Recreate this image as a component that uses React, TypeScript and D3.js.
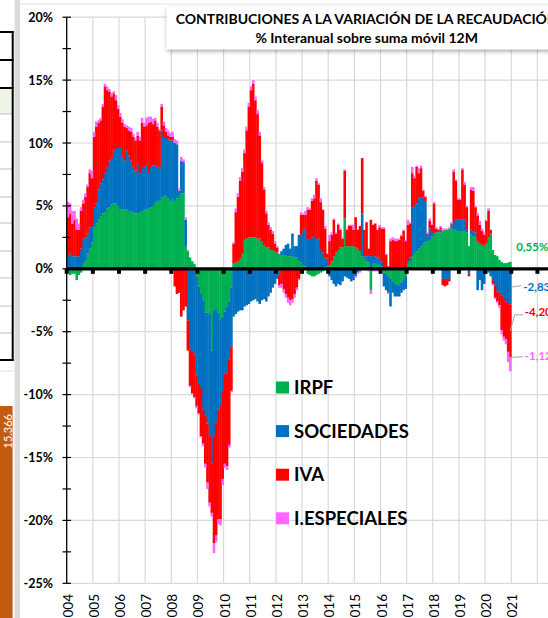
import React, { useEffect, useRef } from "react";
import * as d3 from "d3";

const W = 548;
const H = 618;

// year labels on the category axis (one every 12 months)
const yearLabels = ["2004", "2005", "2006", "2007", "2008", "2009", "2010", "2011", "2012", "2013", "2014", "2015", "2016", "2017", "2018", "2019", "2020", "2021"];
const yTicks = [20, 15, 10, 5, 0, -5, -10, -15, -20, -25];

// monthly contributions (pp), Jan 2004 .. Dec 2020
const irpf = [
  -0.3, -0.5, -0.4, -0.4, -0.9, -0.5, -0.3, 0.4, 0.7, 1.2, 1.6, 2.1,
  3.3, 3.6, 3.9, 4.2, 4.4, 4.5, 4.8, 4.9, 5.1, 5.2, 5.2, 5.0,
  4.7, 4.7, 4.7, 4.7, 4.6, 4.6, 4.5, 4.4, 4.4, 4.5, 4.6, 4.7,
  4.7, 4.8, 4.9, 5.0, 5.3, 5.4, 5.4, 5.7, 5.8, 5.8, 5.6, 5.4,
  5.5, 5.4, 5.6, 5.8, 6.0, 6.0, 1.8, 1.4, 0.9, 0.6, 0.4, -0.6,
  -1.4, -2.0, -2.5, -3.5, -3.5, -3.6, -6.5, -3.3, -3.2, -3.5, -4.0, -3.8,
  -3.4, -3.0, -2.6, -1.5, 0.4, 0.5, 0.6, 0.8, 1.2, 2.3, 2.4, 2.5,
  2.5, 2.5, 2.5, 2.4, 2.4, 2.2, 1.9, 1.7, 1.7, 1.5, 1.5, 1.4,
  1.3, 1.2, 1.1, 1.1, 1.1, 1.0, 1.0, 1.0, 0.9, 0.9, 0.7, 0.5,
  0.3, 0.2, -0.4, -0.5, -0.6, -0.6, -0.5, -0.4, -0.3, -0.2, 0.1, 0.2,
  0.3, 0.6, 1.0, 1.3, 1.5, 1.7, 1.7, 4.0, 1.8, 1.8, 1.8, 1.8,
  1.7, 1.6, 1.4, 1.0, 0.8, 0.6, 0.5, -1.7, 0.4, 0.4, 0.3, 0.3,
  0.2, -0.3, -0.5, -0.6, -0.8, -1.0, -1.2, -1.3, -1.3, -1.1, -0.9, -0.6,
  0.4, 0.6, 1.0, 1.2, 1.4, 1.6, 1.8, 2.0, 2.1, 2.2, 2.3, 2.6,
  2.7, 2.8, 2.9, 2.9, 3.0, 3.1, 3.1, 3.2, 3.2, 3.1, 3.1, 3.0,
  3.0, 3.0, 3.0, 2.9, 1.8, 2.7, 2.6, 2.5, 2.2, 2.0, 1.9, 1.9,
  2.0, 2.5, 2.8, 1.5, 1.1, 1.0, 0.7, 0.55, 0.45, 0.45, 0.5, 0.55
];
const sociedades = [
  1.1, 1.2, 1.0, 1.0, 1.0, 1.0, 1.6, 2.0, 1.8, 1.6, 1.7, 1.3,
  1.6, 1.6, 2.4, 2.6, 2.7, 3.1, 3.3, 3.7, 3.7, 4.2, 4.4, 4.6,
  4.9, 4.2, 3.9, 4.7, 4.4, 4.0, 3.6, 3.4, 4.0, 3.1, 3.5, 3.4,
  3.5, 2.8, 3.2, 3.2, 2.9, 2.7, 2.7, 5.3, 4.6, 4.6, 4.7, 4.8,
  4.7, 4.6, 4.3, 0.4, 2.6, 2.5, 2.1, -4.1, -6.4, -6.6, -6.8, -7.9,
  -7.7, -7.4, -8.7, -8.2, -8.8, -9.7, -9.0, -10.0, -9.0, -7.7, -6.9, -6.0,
  -4.9, -5.3, -4.6, -4.7, -3.8, -3.6, -3.4, -3.3, -3.3, -3.0, -2.9, -2.8,
  -2.6, -2.5, -2.4, -2.6, -2.8, -2.5, -2.4, -2.6, -2.2, -1.9, -1.5, -1.2,
  -0.8, -0.5, 0.3, 0.5, 0.8, 1.0, 0.6, 1.8, 0.9, 0.9, 2.0, 2.2,
  2.8, 2.9, 2.3, 2.3, 2.5, 2.6, 2.3, 2.4, 1.5, 1.3, 0.8, 0.6,
  -0.6, -0.9, -1.2, -1.4, -1.2, -1.3, -1.0, -0.6, -0.7, -0.8, -1.0, -0.9,
  -0.6, -0.3, -0.2, 3.4, 0.2, 0.4, 0.6, 1.0, 0.7, 0.6, 0.6, 0.5,
  0.4, -1.1, -1.2, -1.3, -2.2, -0.9, -1.0, -0.9, -0.9, -0.8, -0.8, -1.0,
  0.3, 0.3, 3.9, 3.8, 3.8, 4.0, 3.9, 3.7, 3.3, 0.5, 0.9, 0.4,
  0.1, 0.1, 0.1, 0.2, -0.8, -0.8, -0.9, -0.8, 0.3, 0.7, 0.8, 0.9,
  0.9, 0.9, 0.9, 0.2, -0.4, 0.4, 0.4, 0.4, -1.7, -0.9, -1.7, -1.2,
  -0.4, -0.3, -0.6, -0.9, -1.3, -1.8, -2.0, -2.1, -2.4, -2.6, -2.8, -2.83
];
const iva = [
  3.0, 3.2, 2.6, 2.9, 2.1, 2.1, 3.0, 2.8, 3.2, 3.7, 4.3, 3.8,
  5.6, 6.1, 5.3, 5.0, 5.8, 6.9, 6.1, 5.5, 4.9, 4.5, 3.8, 3.1,
  2.5, 2.7, 2.7, 1.8, 2.0, 2.3, 2.4, 2.4, 2.2, 2.6, 3.5, 3.2,
  3.2, 4.0, 3.6, 3.3, 3.6, 3.2, 2.9, 1.9, 1.0, 0.5, 0.3, 0.3,
  0.3, -1.4, -2.0, -1.9, -3.8, -3.3, -3.0, -2.4, -2.9, -3.3, -3.4, -2.4,
  -2.4, -3.9, -2.7, -3.8, -4.7, -5.3, -3.9, -8.5, -9.0, -8.7, -9.0, -6.9,
  -7.2, -7.4, -6.8, -3.5, 1.6, 4.0, 5.1, 6.2, 6.5, 6.9, 8.6, 10.4,
  11.7, 12.2, 10.9, 9.9, 8.2, 6.2, 4.4, 2.7, 1.8, 1.6, 1.3, 0.6,
  0.4, -0.8, -1.2, -1.6, -2.0, -2.3, -2.5, -2.4, -2.0, -1.5, -0.8, 1.6,
  1.2, 1.2, 2.4, 2.4, 2.9, 3.0, 4.7, 4.3, 3.8, 3.4, 2.3, 0.4,
  1.9, 2.1, 2.9, 1.5, 2.0, 1.4, 0.7, 3.8, 1.3, 1.6, 1.6, 1.3,
  2.4, 1.5, 2.0, 4.4, 2.1, 2.7, 0.5, 2.9, 2.4, 2.6, 2.2, 2.5,
  2.6, 3.2, 1.1, 0.2, 2.2, 2.3, 2.2, 2.2, 2.3, 2.6, 3.0, 2.2,
  2.8, 2.7, 2.7, 2.2, 2.9, 2.0, 2.3, 0.5, 0.3, 0.1, 0.6, 0.5,
  2.4, 0.3, 0.1, 0.2, -0.5, -0.6, -0.4, -0.2, 0.1, 3.9, 3.1, 1.6,
  1.6, 4.0, 2.8, 1.8, -0.2, 3.2, 3.2, 2.0, 2.0, 1.5, 1.1, 0.8,
  1.8, 2.1, 0.3, -0.3, -1.0, -0.8, -0.9, -2.8, -3.0, -3.0, -3.8, -4.2
];
const especiales = [
  1.2, 0.8, 1.0, 0.7, 0.9, 0.5, 0.3, 0.3, 0.3, 0.2, 0.3, 0.6,
  0.4, 0.4, 0.2, 0.2, 0.2, 0.2, 0.3, 0.2, 0.3, 0.2, 0.4, 0.3,
  0.3, 0.3, 0.2, 0.2, 0.3, 0.3, 0.2, 0.2, 0.3, 0.3, 0.4, 0.3,
  0.6, 0.5, 0.4, 0.4, 0.2, 0.3, 0.1, 0.2, 0.3, 0.3, 0.4, 0.3,
  0.4, 0.3, 0.3, 0.2, 0.3, 0.2, 0.2, 0.1, -0.1, -0.1, -0.1, -0.2,
  -0.1, -0.1, -0.2, -0.3, -0.5, -0.3, -0.3, -0.8, -0.5, -0.4, -0.5, -0.5,
  -0.3, -0.3, -0.2, -0.1, 0.1, 0.3, 0.3, 0.3, 0.3, 0.3, 0.3, 0.3,
  0.3, 0.3, 0.3, 0.3, 0.3, 0.2, 0.2, 0.2, 0.2, 0.2, 0.2, 0.2,
  0.1, -0.2, -0.3, -0.3, -0.3, -0.4, -0.4, -0.3, -0.3, -0.2, -0.1, 0.2,
  0.1, 0.3, 0.2, 0.1, 0.2, 0.3, 0.2, 0.1, 0.3, 0.0, 0.2, 0.0,
  0.5, 0.2, 0.1, 0.1, 0.1, 0.1, 0.1, 0.1, 0.1, 0.1, 0.1, 0.4,
  -0.1, -0.1, -0.1, -0.1, -0.1, -0.1, -0.2, -0.3, -0.2, -0.2, -0.2, 0.2,
  0.1, 0.1, 0.1, -0.1, 0.2, 0.2, 0.2, 0.2, 0.1, 0.1, 0.1, 0.1,
  0.4, 0.1, 0.5, 0.2, 0.1, 0.4, 0.2, 0.1, 0.1, 0.1, 0.2, 0.1,
  0.1, 0.1, 0.1, 0.1, 0.2, 0.1, 0.1, 0.1, 0.1, 0.2, 0.1, 0.1,
  0.1, 0.1, 0.2, 0.1, 0.0, 0.2, 0.3, 0.1, 0.2, 0.3, 0.2, 0.2,
  0.1, 0.2, 0.0, -0.1, -0.1, -0.1, -0.2, -0.3, -0.3, -0.4, -0.8, -1.12
];

const seriesNames = ["IRPF", "SOCIEDADES", "IVA", "I.ESPECIALES"];
const seriesColors = ["#00B050", "#0070C0", "#FF0000", "#FF66FF"];
const lastLabels = ["0,55%", "-2,83%", "-4,20%", "-1,12%"];

const FONT = "Lato, 'Liberation Sans', Arial, sans-serif";

export default function App() {
  const ref = useRef<SVGSVGElement>(null);

  useEffect(() => {
    const svg = d3.select(ref.current);
    svg.selectAll("*").remove();

    const x0 = 66.7;
    const monthW = 26.15 / 12;
    const x = d3.scaleLinear().domain([0, 216]).range([x0, x0 + 216 * monthW]);
    const y = d3.scaleLinear().domain([-25, 20]).range([583.3, 17.2]);

    svg.append("rect").attr("width", W).attr("height", H).attr("fill", "#fff");

    // --- left side leftovers of the worksheet ---
    const left = svg.append("g");
    left.append("rect").attr("x", 0).attr("y", 89).attr("width", 11.7).attr("height", 25).attr("fill", "#eef4e8");
    [114, 142, 169, 197, 223, 251, 278, 306, 333].forEach(v => {
      left.append("line").attr("x1", 0).attr("x2", 12).attr("y1", v).attr("y2", v).attr("stroke", "#bdbdbd");
    });
    [32, 60, 88, 360].forEach(v => {
      left.append("line").attr("x1", 0).attr("x2", 13.7).attr("y1", v).attr("y2", v).attr("stroke", "#000").attr("stroke-width", 2);
    });
    left.append("line").attr("x1", 12.7).attr("x2", 12.7).attr("y1", 31).attr("y2", 361).attr("stroke", "#000").attr("stroke-width", 2);
    left.append("line").attr("x1", 0).attr("x2", 14).attr("y1", 371).attr("y2", 371).attr("stroke", "#e3e3e3");
    left.append("rect").attr("x", 0).attr("y", 406).attr("width", 12.6).attr("height", H - 406).attr("fill", "#C55A11");
    left.append("text")
      .attr("transform", "translate(7.5,414) rotate(-90)")
      .attr("text-anchor", "end")
      .attr("dominant-baseline", "central")
      .attr("fill", "#fff")
      .style("font", `11px ${FONT}`)
      .text("15.366");
    left.append("rect").attr("x", 14.5).attr("y", 0).attr("width", 5.5).attr("height", H).attr("fill", "#dcdcdc");
    left.append("line").attr("x1", 20).attr("x2", W).attr("y1", 4).attr("y2", 4).attr("stroke", "#e2e2e2");

    // --- gridlines ---
    const grid = svg.append("g").attr("stroke", "#d9d9d9").attr("stroke-width", 1.2);
    yTicks.forEach(v => {
      grid.append("line").attr("x1", x0).attr("x2", W).attr("y1", y(v)).attr("y2", y(v));
    });
    d3.range(1, 20).forEach(k => {
      grid.append("line").attr("x1", x(k * 12)).attr("x2", x(k * 12)).attr("y1", y(20)).attr("y2", y(-25));
    });

    // --- stacked bars (positives up, negatives down) ---
    const rows = irpf.map((v, i) => ({ 0: v, 1: sociedades[i], 2: iva[i], 3: especiales[i] }));
    const stack = d3.stack<any>().keys([0, 1, 2, 3] as any).offset(d3.stackOffsetDiverging);
    const layers = stack(rows);

    svg.append("g")
      .selectAll("g")
      .data(layers)
      .enter()
      .append("g")
      .attr("fill", (d, i) => seriesColors[i])
      .selectAll("rect")
      .data(d => d)
      .enter()
      .append("rect")
      .attr("x", (d, i) => x(i))
      .attr("width", (d, i) => x(i + 1) - x(i) + 0.4)
      .attr("y", d => y(Math.max(d[0], d[1])))
      .attr("height", d => Math.abs(y(d[0]) - y(d[1])));

    // --- y axis ---
    const ax = svg.append("g").attr("stroke", "#000");
    ax.append("line").attr("x1", x0).attr("x2", x0).attr("y1", y(20)).attr("y2", y(-25)).attr("stroke-width", 1.3);
    d3.range(-25, 20.1, 2.5).forEach(v => {
      ax.append("line").attr("x1", x0 - 4.2).attr("x2", x0 + 4.3).attr("y1", y(v)).attr("y2", y(v)).attr("stroke-width", 1.2);
    });
    svg.append("g")
      .selectAll("text")
      .data(yTicks)
      .enter()
      .append("text")
      .attr("x", 53)
      .attr("y", d => y(d) + 4.5)
      .attr("text-anchor", "end")
      .style("font", `bold 12.5px ${FONT}`)
      .text(d => d + "%");

    // --- zero (category) axis ---
    const y0 = y(0);
    svg.append("line").attr("x1", x0).attr("x2", W).attr("y1", y0).attr("y2", y0).attr("stroke", "#000").attr("stroke-width", 3.2);
    d3.range(0, 20).forEach(k => {
      svg.append("rect").attr("x", x(k * 12) - 2).attr("y", y0).attr("width", 4).attr("height", 5).attr("fill", "#000");
    });
    // year labels run off the bottom edge, as in the original sheet
    svg.append("g")
      .selectAll("text")
      .data(yearLabels)
      .enter()
      .append("text")
      .attr("transform", (d, i) => `translate(${x(i * 12) + 1},594) rotate(-90)`)
      .attr("text-anchor", "end")
      .attr("dominant-baseline", "central")
      .style("font", `13.5px ${FONT}`)
      .text(d => d);

    // --- labels of the last month ---
    const n = irpf.length - 1;
    const mid = layers.map(l => (l[n][0] + l[n][1]) / 2);
    const lx = x(n + 1);
    const lab = svg.append("g").style("font", `bold 11.5px ${FONT}`);
    lab.append("text").attr("x", lx + 5).attr("y", y(mid[0]) - 14.6).attr("fill", seriesColors[0]).text(lastLabels[0]);
    lab.append("text").attr("x", lx + 12).attr("y", y(mid[1]) + 4.5).attr("fill", seriesColors[1]).text(lastLabels[1]);
    lab.append("text").attr("x", lx + 13.5).attr("y", y(mid[2]) - 14.5).attr("fill", seriesColors[2]).text(lastLabels[2]);
    lab.append("text").attr("x", lx + 13.5).attr("y", y(mid[3]) - 4.5).attr("fill", seriesColors[3]).text(lastLabels[3]);
    const lead = svg.append("g").attr("stroke", "#a6a6a6").attr("fill", "none");
    lead.append("path").attr("d", `M${lx},${y(mid[1]) + 0.5}L${lx + 10},${y(mid[1]) - 1}`);
    lead.append("path").attr("d", `M${lx - 1},${y(mid[2])}L${lx + 3.5},${y(mid[2]) - 16}L${lx + 12},${y(mid[2]) - 16}`);
    lead.append("path").attr("d", `M${lx - 2.5},${y(mid[3]) - 1}L${lx + 1},${y(mid[3]) - 7}L${lx + 12},${y(mid[3]) - 7.5}`);

    // --- legend ---
    const leg = svg.append("g");
    seriesNames.forEach((name, i) => {
      const by = 393.5 + i * 43.6;
      leg.append("rect").attr("x", 276).attr("y", by - 12).attr("width", 13).attr("height", 12).attr("fill", seriesColors[i]);
      leg.append("text").attr("x", 294).attr("y", by + 0.5).style("font", `bold 18.5px ${FONT}`).attr("fill", "#000").text(name);
    });

    // --- title box ---
    const defs = svg.append("defs");
    const f = defs.append("filter").attr("id", "shadow").attr("x", "-10%").attr("y", "-30%").attr("width", "120%").attr("height", "170%");
    f.append("feDropShadow").attr("dx", 0.5).attr("dy", 2).attr("stdDeviation", 2).attr("flood-color", "#000").attr("flood-opacity", 0.35);
    svg.append("rect").attr("x", 166.7).attr("y", 7).attr("width", 420).attr("height", 42.3).attr("fill", "#fff").attr("filter", "url(#shadow)");
    svg.append("text").attr("x", 366.7).attr("y", 24).attr("text-anchor", "middle")
      .style("font", `bold 14px ${FONT}`).text("CONTRIBUCIONES A LA VARIACIÓN DE LA RECAUDACIÓN");
    svg.append("text").attr("x", 366.7).attr("y", 42.7).attr("text-anchor", "middle")
      .style("font", `bold 14px ${FONT}`).text("% Interanual sobre suma móvil 12M");
  }, []);

  return (
    <svg
      ref={ref}
      width={W}
      height={H}
      style={{ position: "absolute", left: 0, top: 0, display: "block" }}
    />
  );
}
